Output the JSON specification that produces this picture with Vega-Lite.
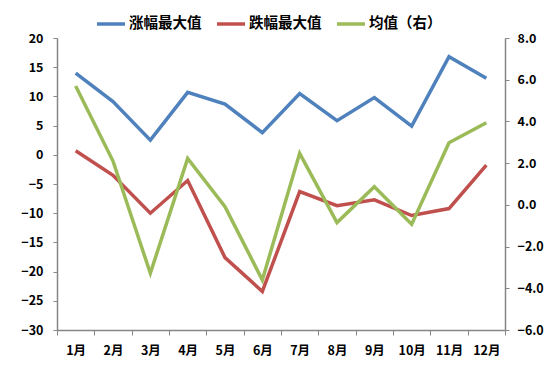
{
  "$schema": "https://vega.github.io/schema/vega-lite/v6.json",
  "autosize": "none",
  "width": 448,
  "height": 292,
  "padding": {"left": 57, "top": 38, "right": 45, "bottom": 46},
  "background": "white",
  "config": {
    "view": {"stroke": null},
    "font": "Noto Sans CJK SC",
    "axis": {
      "labelFont": "Noto Sans CJK SC",
      "labelFontWeight": "bold",
      "labelFontSize": 12.5,
      "labelColor": "#000000",
      "domainColor": "#868686",
      "tickColor": "#868686",
      "grid": false,
      "title": null
    }
  },
  "data": {
    "values": [
      {"month": "1月", "series": "涨幅最大值", "value": 14.0},
      {"month": "2月", "series": "涨幅最大值", "value": 9.1},
      {"month": "3月", "series": "涨幅最大值", "value": 2.5},
      {"month": "4月", "series": "涨幅最大值", "value": 10.7},
      {"month": "5月", "series": "涨幅最大值", "value": 8.7},
      {"month": "6月", "series": "涨幅最大值", "value": 3.8},
      {"month": "7月", "series": "涨幅最大值", "value": 10.5},
      {"month": "8月", "series": "涨幅最大值", "value": 5.85},
      {"month": "9月", "series": "涨幅最大值", "value": 9.8},
      {"month": "10月", "series": "涨幅最大值", "value": 4.9},
      {"month": "11月", "series": "涨幅最大值", "value": 16.8},
      {"month": "12月", "series": "涨幅最大值", "value": 13.1},
      {"month": "1月", "series": "跌幅最大值", "value": 0.7},
      {"month": "2月", "series": "跌幅最大值", "value": -3.5},
      {"month": "3月", "series": "跌幅最大值", "value": -10.0},
      {"month": "4月", "series": "跌幅最大值", "value": -4.4},
      {"month": "5月", "series": "跌幅最大值", "value": -17.6},
      {"month": "6月", "series": "跌幅最大值", "value": -23.4},
      {"month": "7月", "series": "跌幅最大值", "value": -6.3},
      {"month": "8月", "series": "跌幅最大值", "value": -8.7},
      {"month": "9月", "series": "跌幅最大值", "value": -7.7},
      {"month": "10月", "series": "跌幅最大值", "value": -10.4},
      {"month": "11月", "series": "跌幅最大值", "value": -9.2},
      {"month": "12月", "series": "跌幅最大值", "value": -1.75},
      {"month": "1月", "series": "均值（右）", "value": 5.7},
      {"month": "2月", "series": "均值（右）", "value": 2.1},
      {"month": "3月", "series": "均值（右）", "value": -3.28},
      {"month": "4月", "series": "均值（右）", "value": 2.23},
      {"month": "5月", "series": "均值（右）", "value": -0.09},
      {"month": "6月", "series": "均值（右）", "value": -3.6},
      {"month": "7月", "series": "均值（右）", "value": 2.47},
      {"month": "8月", "series": "均值（右）", "value": -0.85},
      {"month": "9月", "series": "均值（右）", "value": 0.87},
      {"month": "10月", "series": "均值（右）", "value": -0.93},
      {"month": "11月", "series": "均值（右）", "value": 2.98},
      {"month": "12月", "series": "均值（右）", "value": 3.94}
    ]
  },
  "encoding": {
    "x": {
      "field": "month",
      "type": "nominal",
      "sort": null,
      "bandPosition": 0.5,
      "scale": {"type": "band", "paddingInner": 0, "paddingOuter": 0},
      "axis": {
        "labelAngle": 0,
        "tickBand": "extent",
        "tickSize": 5,
        "labelPadding": 9,
        "domainWidth": 1.5
      }
    },
    "color": {
      "field": "series",
      "type": "nominal",
      "scale": {
        "domain": ["涨幅最大值", "跌幅最大值", "均值（右）"],
        "range": ["#4F81BD", "#C0504D", "#9BBB59"]
      },
      "legend": {
        "title": null,
        "orient": "none",
        "direction": "horizontal",
        "legendX": 38,
        "legendY": -30,
        "symbolType": "stroke",
        "symbolStrokeWidth": 3.5,
        "symbolSize": 784,
        "labelFontSize": 14.5,
        "labelFont": "Noto Sans CJK SC",
        "labelFontWeight": "bold",
        "labelColor": "#000000",
        "labelOffset": 2,
        "columnPadding": 8
      }
    }
  },
  "layer": [
    {
      "transform": [{"filter": "datum.series !== '均值（右）'"}],
      "mark": {"type": "line", "strokeWidth": 3.5},
      "encoding": {
        "y": {
          "field": "value",
          "type": "quantitative",
          "scale": {"domain": [-30, 20], "nice": false, "zero": false},
          "axis": {
            "orient": "left",
            "values": [-30, -25, -20, -15, -10, -5, 0, 5, 10, 15, 20],
            "tickSize": 4,
            "labelPadding": 10,
            "domainWidth": 1.5
          }
        }
      }
    },
    {
      "transform": [{"filter": "datum.series === '均值（右）'"}],
      "mark": {"type": "line", "strokeWidth": 3.5},
      "encoding": {
        "y": {
          "field": "value",
          "type": "quantitative",
          "scale": {"domain": [-6, 8], "nice": false, "zero": false},
          "axis": {
            "orient": "right",
            "values": [-6, -4, -2, 0, 2, 4, 6, 8],
            "format": ".1f",
            "tickSize": 4,
            "labelPadding": 8,
            "domainWidth": 1.5
          }
        }
      }
    }
  ],
  "resolve": {"scale": {"y": "independent"}}
}
